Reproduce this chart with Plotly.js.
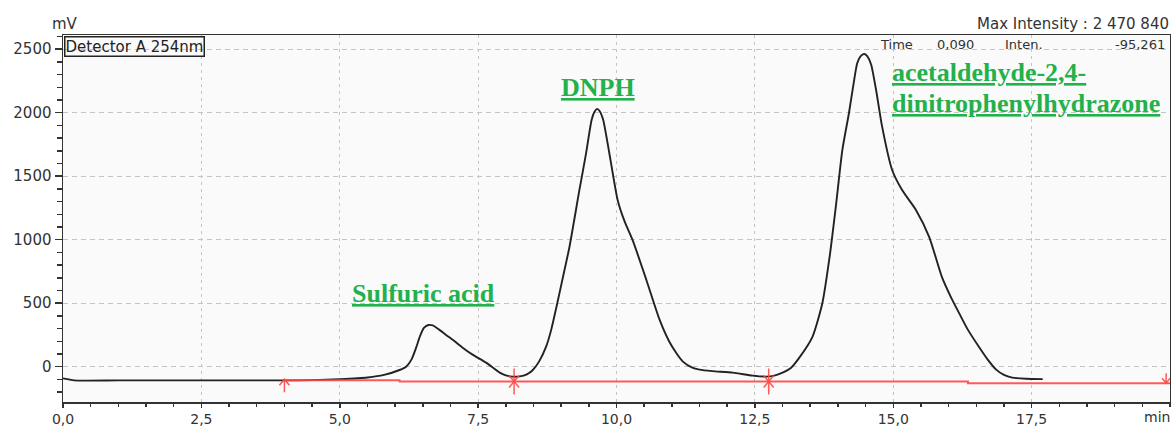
<!DOCTYPE html>
<html>
<head>
<meta charset="utf-8">
<script src="https://cdn.plot.ly/plotly-3.0.1.min.js"></script>
<style>html,body{margin:0;padding:0;background:#fff;}#chart{width:1171px;height:428px;}</style>
</head>
<body>
<div id="chart"></div>
<script>
// Chromatogram signal (time in min, intensity in mV)
var timeMin = [0, 0.1, 0.2, 1, 2, 3, 4, 4.5, 5.0, 5.5, 5.8, 6.08, 6.2, 6.3, 6.38, 6.45, 6.52, 6.6, 6.68, 6.8, 6.92, 7.04, 7.22, 7.4, 7.65, 7.89, 8.0, 8.12, 8.25, 8.38, 8.48, 8.6, 8.73, 8.82, 8.92, 9.03, 9.15, 9.33, 9.45, 9.55, 9.6, 9.65, 9.7, 9.76, 9.87, 10.02, 10.15, 10.29, 10.54, 10.78, 10.95, 11.08, 11.2, 11.37, 11.5, 11.73, 12.1, 12.46, 12.7, 12.85, 13.0, 13.15, 13.3, 13.54, 13.72, 13.85, 13.97, 14.08, 14.2, 14.28, 14.35, 14.42, 14.48, 14.53, 14.6, 14.69, 14.8, 14.98, 15.16, 15.41, 15.65, 15.88, 16.05, 16.19, 16.35, 16.55, 16.7, 16.86, 17.0, 17.15, 17.4, 17.7];
var intensityMv = [-92, -100, -108, -108, -108, -108, -108, -106, -98, -85, -65, -26, 0, 60, 150, 240, 305, 328, 325, 290, 250, 212, 150, 95, 30, -47, -68, -78, -76, -60, -30, 40, 160, 290, 480, 700, 943, 1392, 1680, 1943, 2006, 2030, 2010, 1943, 1683, 1313, 1140, 998, 683, 368, 200, 108, 40, -8, -23, -35, -47, -70, -78, -70, -47, -10, 69, 235, 502, 864, 1289, 1706, 1998, 2220, 2391, 2450, 2462, 2445, 2380, 2179, 1888, 1549, 1391, 1234, 1021, 705, 540, 422, 290, 155, 60, -23, -65, -86, -95, -98];

// Integration baseline (red)
var baseT = [4.0, 6.08, 6.08, 16.35, 16.35, 20];
var baseV = [-106, -106, -117, -117, -130, -130];

// Integration marks
var markT = [4.0, 8.15, 12.75, 19.93];
var markV = [-106, -117, -117, -130];
var markKind = ['start', 'split', 'split', 'end'];

// Axis ticks
var xTickVals = [0, 2.5, 5, 7.5, 10, 12.5, 15, 17.5];
var xTickText = ['0,0', '2,5', '5,0', '7,5', '10,0', '12,5', '15,0', '17,5'];
var yTickVals = [0, 500, 1000, 1500, 2000, 2500];
var yTickText = ['0', '500', '1000', '1500', '2000', '2500'];

// Peak labels
var peakNames = ['Sulfuric acid', 'DNPH', 'acetaldehyde-2,4-', 'dinitrophenylhydrazone'];

var tickFont = {family: 'DejaVu Sans, sans-serif', size: 15, color: '#333'};
var xTickFont = {family: 'DejaVu Sans, sans-serif', size: 14, color: '#333'};
var green = '#22b14c';
var red = 'rgba(255,70,70,0.9)';

var traces = [
  {x: timeMin, y: intensityMv, type: 'scatter', mode: 'lines',
   line: {color: '#222', width: 1.9, shape: 'spline', smoothing: 0.6}, hoverinfo: 'skip'},
  {x: baseT, y: baseV, type: 'scatter', mode: 'lines',
   line: {color: red, width: 2}, hoverinfo: 'skip'}
];

var shapes = [];
markT.forEach(function (t, i) {
  var p;
  if (markKind[i] === 'start') p = 'M0,1 L0,-12 M-5,-5 L0,1 L5,-5';
  else if (markKind[i] === 'split') p = 'M0,13 L0,-13 M-5,6 L5,-6 M-5,-6 L5,6';
  else p = 'M0,0 L0,10 M-4,5 L0,0 L4,5';
  shapes.push({type: 'path', xref: 'x', yref: 'y', xsizemode: 'pixel', ysizemode: 'pixel',
    xanchor: t, yanchor: markV[i], path: p, line: {color: red, width: 1.5}});
});

var serifGreen = {family: 'Liberation Serif, Times New Roman, serif', size: 26, color: green, weight: 'bold'};
var smallFont = {family: 'DejaVu Sans, sans-serif', size: 13, color: '#333'};
var annotations = [
  {xref: 'paper', yref: 'paper', x: 0, y: 1, xanchor: 'left', yanchor: 'top', showarrow: false,
   text: 'Detector A 254nm', font: {family: 'DejaVu Sans, sans-serif', size: 15, color: '#222'},
   bordercolor: '#222', borderwidth: 1.5, borderpad: 0, bgcolor: 'rgba(0,0,0,0)', yshift: -1, xshift: 1},
  {xref: 'paper', yref: 'paper', x: 0, y: 1, xanchor: 'left', yanchor: 'bottom', showarrow: false,
   text: 'mV', font: tickFont, xshift: -13, yshift: 0},
  {xref: 'paper', yref: 'paper', x: 1, y: 1, xanchor: 'right', yanchor: 'bottom', showarrow: false,
   text: 'Max Intensity : 2 470 840', font: tickFont, xshift: 1, yshift: 0},
  {xref: 'paper', yref: 'paper', x: 1, y: 0, xanchor: 'right', yanchor: 'top', showarrow: false,
   text: 'min', font: xTickFont, xshift: 2, yshift: -5},
  {xref: 'x', yref: 'y', x: 14.72, y: 2541, xanchor: 'left', yanchor: 'middle', showarrow: false,
   text: 'Time', font: smallFont},
  {xref: 'x', yref: 'y', x: 15.75, y: 2541, xanchor: 'left', yanchor: 'middle', showarrow: false,
   text: '0,090', font: smallFont},
  {xref: 'x', yref: 'y', x: 16.98, y: 2541, xanchor: 'left', yanchor: 'middle', showarrow: false,
   text: 'Inten.', font: smallFont},
  {xref: 'x', yref: 'y', x: 19.95, y: 2541, xanchor: 'right', yanchor: 'middle', showarrow: false,
   text: '-95,261', font: smallFont},
  {xref: 'x', yref: 'y', x: 6.52, y: 580, xanchor: 'center', yanchor: 'middle', showarrow: false,
   text: '<u>' + peakNames[0] + '</u>', font: serifGreen},
  {xref: 'x', yref: 'y', x: 9.67, y: 2202, xanchor: 'center', yanchor: 'middle', showarrow: false,
   text: '<u>' + peakNames[1] + '</u>', font: serifGreen},
  {xref: 'x', yref: 'y', x: 14.94, y: 2320, xanchor: 'left', yanchor: 'middle', showarrow: false,
   text: '<u>' + peakNames[2] + '</u>', font: serifGreen},
  {xref: 'x', yref: 'y', x: 14.94, y: 2076, xanchor: 'left', yanchor: 'middle', showarrow: false,
   text: '<u>' + peakNames[3] + '</u>', font: serifGreen}
];

var layout = {
  width: 1171, height: 428,
  margin: {l: 63, r: 1, t: 35, b: 26, pad: 0},
  paper_bgcolor: '#ffffff', plot_bgcolor: '#fafafa',
  showlegend: false,
  xaxis: {range: [0, 20], tickvals: xTickVals, ticktext: xTickText, tickfont: xTickFont,
    showline: true, linecolor: '#333', linewidth: 1.5, mirror: true,
    ticks: 'outside', ticklen: 4, tickcolor: '#333', tickwidth: 1.5,
    minor: {dtick: 0.5, ticks: 'outside', ticklen: 3, tickcolor: '#333', showgrid: false},
    showgrid: true, gridcolor: '#c4c4c4', griddash: '3px,4px', gridwidth: 1, zeroline: false, fixedrange: true},
  yaxis: {range: [-278, 2612], tickvals: yTickVals, ticktext: yTickText, tickfont: tickFont,
    showline: true, linecolor: '#333', linewidth: 1.5, mirror: true,
    ticks: 'outside', ticklen: 7, tickcolor: '#333', tickwidth: 1.5,
    minor: {dtick: 100, ticks: 'outside', ticklen: 5, tickcolor: '#333', showgrid: false},
    showgrid: true, gridcolor: '#c4c4c4', griddash: '5px,4px', gridwidth: 1, zeroline: false, fixedrange: true},
  shapes: shapes,
  annotations: annotations
};

Plotly.newPlot('chart', traces, layout, {staticPlot: true, displayModeBar: false});
</script>
</body>
</html>
